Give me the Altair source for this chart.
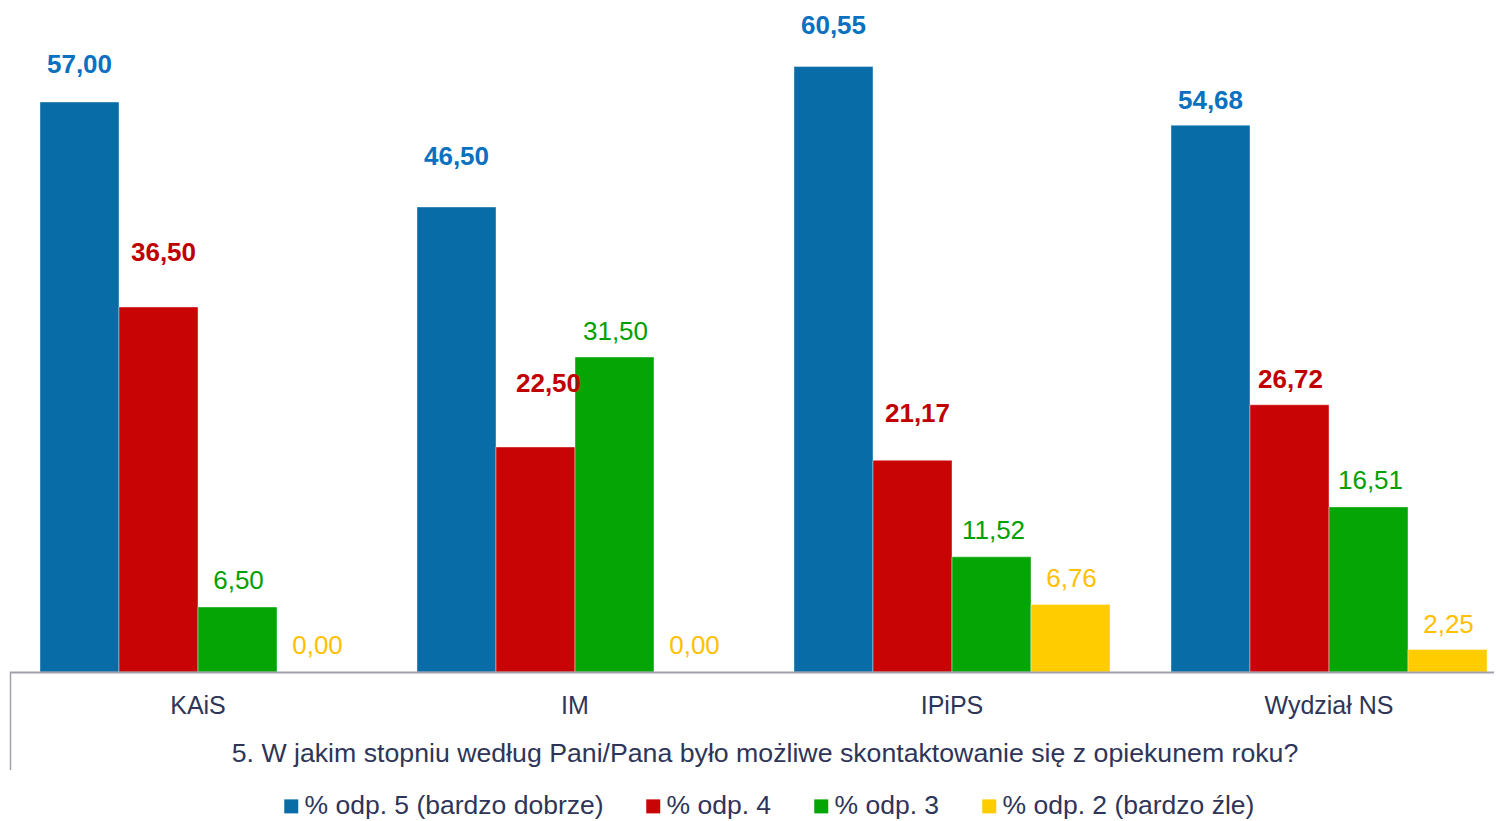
import altair as alt
import pandas as pd

categories = ["KAiS", "IM", "IPiPS", "Wydział NS"]
series = ["% odp. 5 (bardzo dobrze)", "% odp. 4", "% odp. 3", "% odp. 2 (bardzo źle)"]
odp5 = [57.00, 46.50, 60.55, 54.68]
odp4 = [36.50, 22.50, 21.17, 26.72]
odp3 = [6.50, 31.50, 11.52, 16.51]
odp2 = [0.00, 0.00, 6.76, 2.25]
axis_title = "5. W jakim stopniu według Pani/Pana było możliwe skontaktowanie się z opiekunem roku?"

# styles
bar_colors = ["#086CA6", "#C80404", "#05A505", "#FFCC00"]
label_colors = ["#0A70C0", "#C00000", "#00A000", "#FFC000"]
text_color = "#2E3558"
font = "Liberation Sans"
# pixel nudges of value labels relative to their default spot above the bar
label_nudge_y = [
    [-37, -50, -41, -24],
    [-54, -63, -46, -25],
    [-26, -25, -26, -26],
    [-26, -26, -25, -25],
]
label_nudge_x = [
    [0, 0, 0, 0],
    [5, 13, 5, 1],
    [1, 1, 2, 2],
    [1, 1, 1, 1],
]

plot_h = 662
y_max = 66.2
px_per_unit = plot_h / y_max

values = [odp5, odp4, odp3, odp2]
rows = []
for si, s in enumerate(series):
    for ci, c in enumerate(categories):
        rows.append({"cat": c, "series": s, "value": values[si][ci],
                     "nudge": label_nudge_y[si][ci], "nx": label_nudge_x[si][ci],
                     "bold": si < 2})
df = pd.DataFrame(rows)

base = alt.Chart(df)

X = alt.X("cat:N", sort=categories,
          scale=alt.Scale(range=[0, 1508], paddingInner=0.1618, paddingOuter=0.0809),
          axis=alt.Axis(title=axis_title, labelAngle=0, ticks=False, tickSize=0,
                        labelBaseline="middle", labelPadding=33,
                        labelFontSize=25, labelColor=text_color, labelFont=font,
                        titleFontSize=26.7, titleColor=text_color, titleFont=font,
                        titleFontWeight="normal", titleX=755, titleY=81,
                        titleAlign="center", titleBaseline="middle",
                        domainColor="#A0A0AA", domainWidth=2, zindex=1))
XO = alt.XOffset("series:N", sort=series, scale=alt.Scale(paddingInner=0, paddingOuter=0))
Y = alt.Y("value:Q", scale=alt.Scale(domain=[0, y_max], nice=False, zero=True), axis=None)
YL = alt.Y("ly:Q", scale=alt.Scale(domain=[0, y_max], nice=False, zero=True), axis=None)

bars = base.mark_bar(stroke="white", strokeWidth=0.8, strokeOpacity=0.5).encode(
    x=X, xOffset=XO, y=Y,
    color=alt.Color("series:N", sort=series,
                    scale=alt.Scale(domain=series, range=bar_colors),
                    legend=alt.Legend(title=None, orient="none", legendX=268.5, legendY=783,
                                      direction="horizontal", columns=4,
                                      symbolType="square", symbolSize=196,
                                      symbolStrokeWidth=0, labelFontSize=26.5,
                                      labelColor=text_color, labelFont=font,
                                      columnPadding=36, labelOffset=0, padding=0,
                                      labelLimit=0)),
)

label_color = alt.Color("series:N", scale=alt.Scale(domain=series, range=label_colors), legend=None)


def label_layer(flt, weight):
    return base.transform_filter(flt).transform_calculate(
        label="replace(format(datum.value, '.2f'), '.', ',')",
        ly=f"datum.value - datum.nudge / {px_per_unit}",
    ).mark_text(font=font, fontSize=26, fontWeight=weight, baseline="middle",
                dx=alt.ExprRef("datum.nx")).encode(
        x=X, xOffset=XO, y=YL, text="label:N", color=label_color,
    )


labels_bold = label_layer("datum.bold", "bold")
labels_norm = label_layer("!datum.bold", "normal")

left_rule = alt.Chart(pd.DataFrame({"a": [0]})).mark_rule(color="#A0A0AA", strokeWidth=1.5).encode(
    x=alt.value(1), y=alt.value(plot_h), y2=alt.value(plot_h + 98)
)

chart = alt.layer(bars, labels_bold, labels_norm, left_rule).resolve_scale(
    color="independent"
).properties(
    width=1484.5, height=plot_h,
    autosize=alt.AutoSizeParams(type="none"),
    padding={"left": 1.5, "top": 2, "right": 0, "bottom": 149},
).configure_view(stroke=None)

chart.save("out.html", embed_options={"renderer": "svg", "actions": False})
